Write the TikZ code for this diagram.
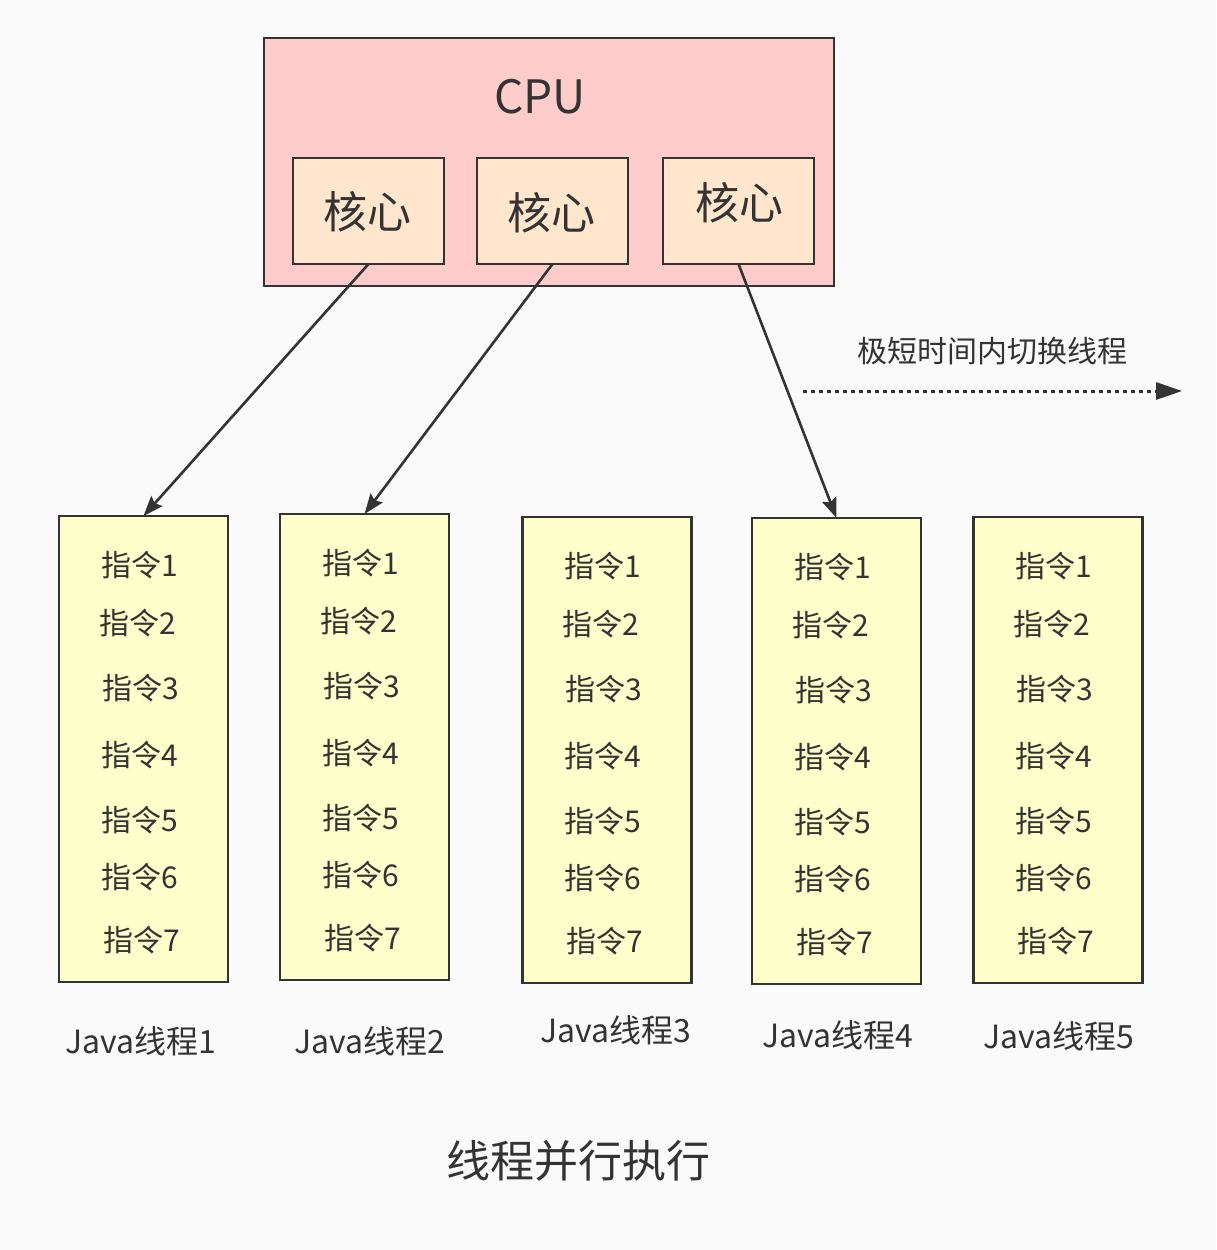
\documentclass[tikz,border=0pt]{standalone}
\usepackage{fontspec}
\setmainfont{Noto Sans CJK SC}
\usetikzlibrary{arrows.meta}
\definecolor{bg}{HTML}{FAFAFA}
\definecolor{ink}{HTML}{333333}
\definecolor{cpufill}{HTML}{FFCCCC}
\definecolor{corefill}{HTML}{FFE6CC}
\definecolor{thrfill}{HTML}{FFFFCC}
\begin{document}
\begin{tikzpicture}[x=1pt,y=-1pt,
  box/.style={draw=ink, line width=2.8pt, inner sep=0pt, outer sep=0pt},
  cpubox/.style={box, fill=cpufill, minimum width=570pt, minimum height=248pt},
  corebox/.style={box, fill=corefill, minimum width=151pt, minimum height=106pt},
  thrbox/.style={box, fill=thrfill, minimum width=169pt, minimum height=466pt},
  txt/.style={text=ink, inner sep=0pt, anchor=center},
  cputxt/.style={txt, font=\fontsize{46}{54}\selectfont},
  coretxt/.style={txt, font=\fontsize{44}{52}\selectfont},
  instr/.style={txt, font=\fontsize{30}{36}\selectfont},
  lbl/.style={txt, font=\fontsize{32}{38}\selectfont},
  ttl/.style={txt, font=\fontsize{44}{52}\selectfont},
  conn/.style={draw=ink, line width=2.6pt, -{Stealth[length=20pt,width=15pt,inset=3pt]}},
  dotarrow/.style={draw=ink, line width=3pt, dash pattern=on 4pt off 4pt, -{Triangle[length=26pt,width=17pt]}}
]
\fill[bg] (0,0) rectangle (1216,1250);
\useasboundingbox (0,0) rectangle (1216,1250);

% CPU
\node[cpubox] (cpu) at (549,162) {};
\node[cputxt] (cputext) at (540,97) {CPU};
\node[corebox] (core1) at (368.5,211) {};
\node[corebox] (core2) at (552.5,211) {};
\node[corebox] (core3) at (738.5,211) {};
\node[coretxt] (ct1) at (367,212) {核心};
\node[coretxt] (ct2) at (551,213) {核心};
\node[coretxt] (ct3) at (739,203) {核心};

% threads
\node[thrbox] (t1) at (143.5,749) {};
\node[thrbox] (t2) at (364.5,747) {};
\node[thrbox] (t3) at (607,750) {};
\node[thrbox] (t4) at (836.5,751) {};
\node[thrbox] (t5) at (1058,750) {};

\foreach \i/\cx/\top in {1/143.5/516, 2/364.5/514, 3/607/517, 4/836.5/518, 5/1058/517} {
  \foreach \k/\dy/\dx in {1/49/-4, 2/107/-6, 3/172/-3, 4/239/-4, 5/304/-4, 6/361/-4, 7/424/-2} {
    \node[instr] (i\i-\k) at ({\cx+(\dx)},{\top+\dy}) {指令\k};
  }
}

% connectors
\draw[conn] (core1.south) -- (t1.north);
\draw[conn] (core2.south) -- (t2.north);
\draw[conn] (core3.south) -- (t4.north);

\coordinate (ds) at (803,391);
\coordinate (de) at (1182,391);
\draw[dotarrow] (ds) -- (de);
\node[instr] (switch) at (992,351) {极短时间内切换线程};

% labels
\node[lbl] (j1) at (141,1041) {Java线程1};
\node[lbl] (j2) at (370,1041) {Java线程2};
\node[lbl] (j3) at (616,1030) {Java线程3};
\node[lbl] (j4) at (838,1035) {Java线程4};
\node[lbl] (j5) at (1059,1036) {Java线程5};

\node[ttl] (title) at (578,1161) {线程并行执行};
\end{tikzpicture}
\end{document}
